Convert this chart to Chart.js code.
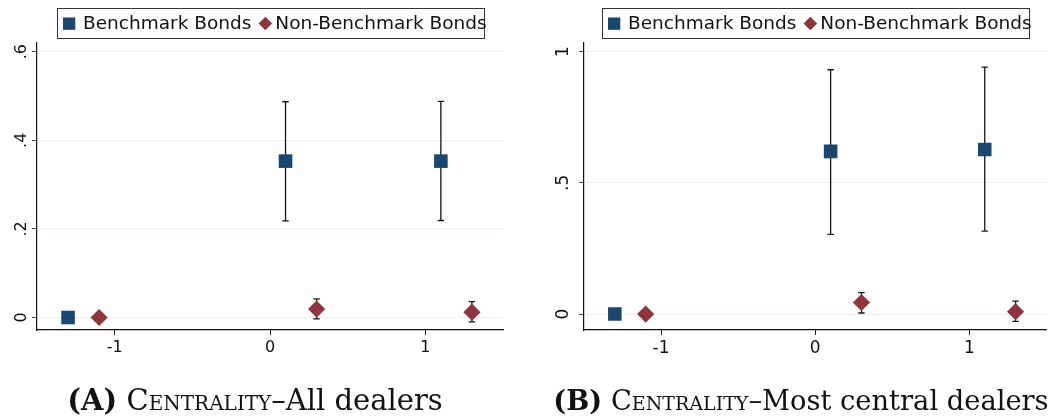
<!DOCTYPE html>
<html>
<head>
<meta charset="utf-8">
<script src="https://cdn.jsdelivr.net/npm/chart.js@4/dist/chart.umd.min.js"></script>
<style>
  html, body { margin: 0; padding: 0; background: #fff; }
  #wrap { position: relative; width: 1056px; height: 416px; overflow: hidden; }
  canvas { position: absolute; top: 0; }
  #chartA { left: 0; }
  #chartB { left: 528px; }
  .cap {
    position: absolute; top: 385px; transform: translateX(-50%);
    font-family: 'DejaVu Serif', 'Liberation Serif', serif; font-size: 22px;
    color: #111; white-space: nowrap; line-height: 30px;
  }
  .cap b { font-weight: bold; }
  .sc { font-variant: small-caps; }
  #capA { left: 255px; }
  #capB { left: 801px; }
</style>
</head>
<body>
<div id="wrap">
  <canvas id="chartA" width="528" height="416"></canvas>
  <canvas id="chartB" width="528" height="416"></canvas>
  <div class="cap" id="capA" data-width="374"><b>(A)</b> <span class="sc">Centrality</span>–All dealers</div>
  <div class="cap" id="capB" data-width="493"><b>(B)</b> <span class="sc">Centrality</span>–Most central dealers</div>
</div>
<script>
// Series and positions on the x axis
const seriesNames = ['Benchmark Bonds', 'Non-Benchmark Bonds'];
const benchX = [-1.3, 0.1, 1.1];
const nonBenchX = [-1.1, 0.3, 1.3];
const xTicks = [-1, 0, 1];

// Panel A: all dealers (point estimate, lower and upper bound)
const benchA = [0, 0.353, 0.353];
const benchALow = [0, 0.218, 0.219];
const benchAHigh = [0, 0.487, 0.488];
const nonBenchA = [0, 0.019, 0.012];
const nonBenchALow = [0, -0.003, -0.010];
const nonBenchAHigh = [0, 0.042, 0.036];
const yTicksA = [0, 0.2, 0.4, 0.6];

// Panel B: most central dealers
const benchB = [0, 0.620, 0.627];
const benchBLow = [0, 0.304, 0.316];
const benchBHigh = [0, 0.931, 0.941];
const nonBenchB = [0, 0.044, 0.009];
const nonBenchBLow = [0, 0.004, -0.028];
const nonBenchBHigh = [0, 0.082, 0.049];
const yTicksB = [0, 0.5, 1];

const NAVY = '#1a476f';
const MAROON = '#90353b';
const FONT = "'DejaVu Sans', sans-serif";

function points(xs, ys) { return xs.map((x, i) => ({ x: x, y: ys[i] })); }

// Stata-style labels: no leading zero
function statLabel(v) {
  if (v === 0) return '0';
  const s = String(+Number(v).toFixed(2));
  return s.replace(/^(-?)0\./, '$1.');
}

// Capped confidence intervals behind the markers
const errorBars = {
  id: 'errorBars',
  beforeDatasetsDraw(chart) {
    const ctx = chart.ctx, xs = chart.scales.x, ys = chart.scales.y;
    ctx.save();
    ctx.strokeStyle = '#151515';
    ctx.lineWidth = 1.3;
    chart.data.datasets.forEach(ds => {
      if (!ds.low) return;
      ds.data.forEach((p, i) => {
        const lo = ds.low[i], hi = ds.high[i];
        if (lo === hi) return;
        const px = xs.getPixelForValue(p.x);
        const y1 = ys.getPixelForValue(lo), y2 = ys.getPixelForValue(hi);
        ctx.beginPath();
        ctx.moveTo(px, y1); ctx.lineTo(px, y2);
        ctx.moveTo(px - 3.2, y1); ctx.lineTo(px + 3.2, y1);
        ctx.moveTo(px - 3.2, y2); ctx.lineTo(px + 3.2, y2);
        ctx.stroke();
      });
    });
    ctx.restore();
  }
};

// Framed legend centred over the plot area
const boxedLegend = {
  id: 'boxedLegend',
  afterDraw(chart) {
    const ctx = chart.ctx, area = chart.chartArea;
    const cx = (area.left + area.right) / 2;
    const w = 427, h = 30;
    const left = Math.round(cx - w / 2) + 0.5, top = 8.5;
    const cy = top + h / 2;
    const ds = chart.data.datasets;
    ctx.save();
    ctx.strokeStyle = '#333';
    ctx.lineWidth = 1;
    ctx.strokeRect(left, top, w, h);
    ctx.font = '18.5px ' + FONT;
    ctx.textBaseline = 'middle';
    // square marker + label
    ctx.fillStyle = ds[0].backgroundColor;
    ctx.fillRect(left + 5.5, cy - 6, 12.3, 12.3);
    let tx = left + 25.5;
    ctx.fillStyle = '#111';
    ctx.fillText(ds[0].label, tx, cy + 1);
    tx += ctx.measureText(ds[0].label).width;
    // diamond marker + label
    const dx = tx + 14, r = 6.8;
    ctx.fillStyle = ds[1].backgroundColor;
    ctx.beginPath();
    ctx.moveTo(dx - r, cy); ctx.lineTo(dx, cy - r); ctx.lineTo(dx + r, cy); ctx.lineTo(dx, cy + r);
    ctx.closePath();
    ctx.fill();
    ctx.fillStyle = '#111';
    ctx.fillText(ds[1].label, dx + 10, cy + 1);
    ctx.restore();
  }
};

function makeChart(id, cfg) {
  return new Chart(document.getElementById(id), {
    type: 'scatter',
    data: {
      datasets: [
        {
          label: seriesNames[0], data: points(benchX, cfg.bench),
          low: cfg.benchLow, high: cfg.benchHigh,
          pointStyle: 'rect', pointRadius: 9.6, pointHoverRadius: 9.6,
          backgroundColor: NAVY, borderColor: NAVY, borderWidth: 0
        },
        {
          label: seriesNames[1], data: points(nonBenchX, cfg.nonBench),
          low: cfg.nonBenchLow, high: cfg.nonBenchHigh,
          pointStyle: 'rectRot', pointRadius: 8.6, pointHoverRadius: 8.6,
          backgroundColor: MAROON, borderColor: MAROON, borderWidth: 0
        }
      ]
    },
    options: {
      responsive: false,
      animation: false,
      devicePixelRatio: 1,
      events: [],
      layout: { padding: { top: 43, right: cfg.padRight, left: 0, bottom: 0 } },
      plugins: { legend: { display: false }, tooltip: { enabled: false } },
      scales: {
        x: {
          type: 'linear', min: -1.5, max: 1.5,
          afterBuildTicks: s => { s.ticks = xTicks.map(v => ({ value: v })); },
          afterFit: s => { s.height = 86; },
          grid: { display: true, drawOnChartArea: false, drawTicks: true, tickLength: 5, tickColor: '#222', color: '#222' },
          border: { display: true, color: '#111', width: 1.2 },
          ticks: { font: { family: FONT, size: cfg.tickSize }, color: '#111', padding: 3, maxRotation: 0, minRotation: 0,
                   callback: v => statLabel(v) }
        },
        y: {
          type: 'linear', min: cfg.yMin, max: cfg.yMax,
          afterBuildTicks: s => { s.ticks = cfg.yTicks.map(v => ({ value: v })); },
          afterFit: s => { s.width = cfg.yWidth; },
          grid: { color: '#e8f0f2', lineWidth: 1, drawTicks: true, tickLength: 5, tickColor: '#444' },
          border: { display: true, color: '#111', width: 1.2 },
          ticks: { font: { family: FONT, size: cfg.tickSize }, color: '#111', minRotation: 90, maxRotation: 90,
                   crossAlign: 'center', padding: cfg.yPad, callback: v => statLabel(v) }
        }
      }
    },
    plugins: [errorBars, boxedLegend]
  });
}

makeChart('chartA', {
  bench: benchA, benchLow: benchALow, benchHigh: benchAHigh,
  nonBench: nonBenchA, nonBenchLow: nonBenchALow, nonBenchHigh: nonBenchAHigh,
  yTicks: yTicksA, yMin: -0.0282, yMax: 0.6196, yWidth: 37, padRight: 25, yPad: 3, tickSize: 16
});

makeChart('chartB', {
  bench: benchB, benchLow: benchBLow, benchHigh: benchBHigh,
  nonBench: nonBenchB, nonBenchLow: nonBenchBLow, nonBenchHigh: nonBenchBHigh,
  yTicks: yTicksB, yMin: -0.0608, yMax: 1.033, yWidth: 56, padRight: 6, yPad: 7, tickSize: 17
});

// Size each caption to its panel's caption width
document.querySelectorAll('.cap').forEach(el => {
  const target = +el.dataset.width;
  const base = parseFloat(getComputedStyle(el).fontSize);
  const w = el.getBoundingClientRect().width;
  el.style.fontSize = (base * target / w).toFixed(2) + 'px';
});
</script>
</body>
</html>
